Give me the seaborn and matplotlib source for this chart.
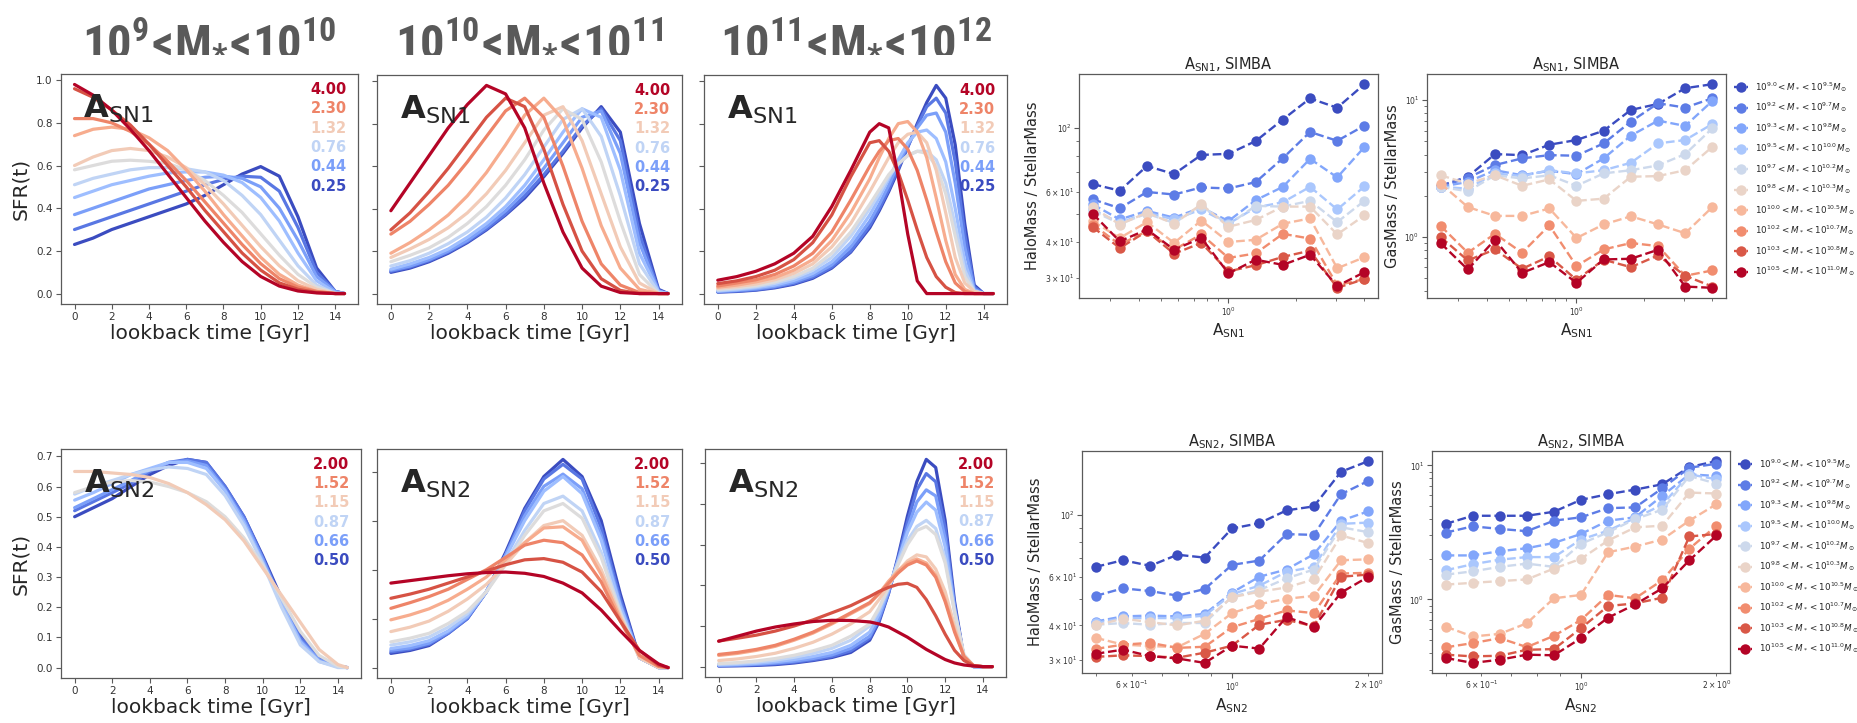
import numpy as np
import pandas as pd
import matplotlib
matplotlib.use("Agg")
import matplotlib.pyplot as plt
import seaborn as sns
from matplotlib import font_manager

# ---------------- model parameters ----------------
A_SN1 = [0.250, 0.330, 0.4353, 0.574, 0.7579, 1.000, 1.3195, 1.741, 2.2974, 3.031, 4.000]
A_SN2 = [0.500, 0.5743, 0.6598, 0.7579, 0.8706, 1.000, 1.1487, 1.3195, 1.5157, 1.7411, 2.000]
LABEL_IDX = [10, 8, 6, 4, 2, 0]

# lookback-time grids [Gyr]
T_BROAD = [0, 1, 2, 3, 4, 5, 6, 7, 8, 9, 10, 11, 12, 13, 14, 14.5]
T_PEAKED = [0, 1, 2, 3, 4, 5, 6, 7, 8, 8.5, 9, 9.5, 10, 10.5, 11, 11.5, 12, 12.5, 13, 13.5, 14, 14.5]

# ---------------- star formation histories, A_SN1 ----------------
SFR_SN1_LOW = [
    [.23, .26, .30, .33, .36, .39, .42, .46, .51, .56, .595, .55, .36, .12, .01, 0],
    [.30, .33, .36, .39, .42, .45, .48, .51, .535, .55, .545, .48, .31, .10, .01, 0],
    [.37, .40, .43, .46, .49, .51, .53, .545, .55, .54, .50, .40, .25, .08, .01, 0],
    [.45, .48, .51, .53, .55, .565, .57, .57, .555, .52, .45, .34, .19, .06, .005, 0],
    [.51, .54, .56, .58, .59, .59, .585, .57, .53, .46, .37, .25, .13, .04, 0, 0],
    [.58, .60, .62, .625, .62, .61, .58, .53, .46, .38, .28, .18, .09, .03, 0, 0],
    [.60, .64, .67, .68, .67, .64, .59, .51, .42, .32, .22, .13, .06, .02, 0, 0],
    [.74, .77, .78, .77, .73, .67, .58, .48, .37, .27, .17, .09, .04, .01, 0, 0],
    [.82, .82, .80, .76, .70, .62, .53, .43, .33, .23, .14, .07, .03, .01, 0, 0],
    [.96, .92, .86, .79, .70, .60, .50, .39, .29, .19, .11, .05, .02, .005, 0, 0],
    [.98, .93, .86, .77, .67, .56, .45, .34, .24, .15, .08, .035, .012, .003, 0, 0],
]
SFR_SN1_MID = [
    [.10, .12, .15, .19, .24, .30, .37, .45, .55, .66, .78, .88, .76, .33, .02, 0],
    [.105, .125, .155, .195, .245, .305, .375, .46, .56, .67, .79, .87, .72, .28, .015, 0],
    [.11, .13, .16, .20, .25, .315, .39, .48, .59, .71, .83, .86, .66, .24, .01, 0],
    [.115, .14, .17, .21, .265, .33, .41, .51, .63, .76, .87, .83, .58, .19, .01, 0],
    [.13, .155, .19, .235, .29, .36, .45, .56, .69, .82, .87, .74, .46, .14, .005, 0],
    [.15, .18, .215, .265, .33, .41, .51, .63, .77, .87, .82, .62, .34, .09, 0, 0],
    [.17, .21, .255, .31, .38, .47, .58, .71, .84, .88, .72, .47, .22, .05, 0, 0],
    [.19, .24, .30, .37, .46, .57, .70, .84, .92, .82, .59, .32, .12, .02, 0, 0],
    [.28, .34, .42, .51, .62, .74, .86, .92, .83, .60, .34, .14, .04, .005, 0, 0],
    [.30, .38, .48, .59, .71, .83, .92, .88, .68, .42, .20, .07, .015, 0, 0, 0],
    [.39, .52, .65, .78, .89, .98, .94, .78, .52, .29, .12, .035, .005, 0, 0, 0],
]
SFR_SN1_HIGH = [
    [.007, .01, .016, .027, .044, .072, .12, .195, .31, .39, .48, .58, .69, .80, .90, .98, .92, .70, .33, .04, 0, 0],
    [.008, .012, .018, .03, .048, .077, .125, .20, .32, .40, .49, .59, .69, .79, .88, .92, .85, .62, .28, .03, 0, 0],
    [.01, .015, .022, .034, .054, .085, .135, .22, .34, .42, .51, .61, .70, .78, .84, .85, .76, .52, .22, .02, 0, 0],
    [.012, .018, .027, .04, .062, .095, .15, .24, .37, .45, .54, .63, .71, .76, .77, .73, .62, .40, .15, .015, 0, 0],
    [.015, .022, .032, .048, .072, .11, .17, .27, .40, .47, .55, .61, .65, .67, .67, .63, .52, .32, .11, .01, 0, 0],
    [.02, .027, .037, .055, .08, .12, .19, .29, .42, .49, .56, .61, .65, .67, .66, .60, .47, .27, .08, .01, 0, 0],
    [.025, .033, .045, .065, .095, .14, .22, .33, .48, .56, .64, .71, .75, .76, .71, .58, .38, .17, .05, .01, 0, 0],
    [.03, .04, .055, .075, .11, .16, .25, .38, .54, .64, .73, .80, .81, .76, .64, .45, .25, .09, .02, 0, 0, 0],
    [.036, .05, .065, .09, .13, .19, .29, .44, .60, .67, .72, .73, .68, .58, .44, .29, .15, .05, .01, 0, 0, 0],
    [.047, .06, .08, .11, .16, .24, .37, .55, .71, .72, .67, .57, .44, .30, .17, .08, .03, .005, 0, 0, 0, 0],
    [.063, .08, .105, .14, .19, .27, .41, .58, .76, .80, .78, .55, .28, .06, 0, 0, 0, 0, 0, 0, 0, 0],
]

# ---------------- star formation histories, A_SN2 ----------------
SFR_SN2_LOW = [
    [.50, .53, .56, .60, .64, .67, .69, .68, .60, .50, .37, .23, .11, .035, .005, 0],
    [.52, .55, .58, .61, .65, .68, .69, .68, .60, .50, .365, .22, .10, .03, .005, 0],
    [.53, .56, .59, .62, .655, .68, .685, .67, .59, .49, .36, .215, .09, .025, .003, 0],
    [.555, .58, .61, .64, .66, .68, .68, .66, .585, .48, .35, .21, .085, .02, .003, 0],
    [.575, .60, .62, .64, .655, .665, .66, .64, .57, .47, .345, .20, .075, .02, 0, 0],
    [.58, .60, .615, .62, .615, .60, .58, .55, .50, .43, .34, .23, .12, .04, .005, 0],
    [.65, .65, .645, .64, .63, .61, .58, .54, .49, .42, .33, .24, .15, .06, .01, 0],
]
SFR_SN2_MID = [
    [.058, .07, .09, .14, .20, .31, .47, .65, .78, .85, .78, .60, .30, .04, 0, 0],
    [.064, .075, .095, .14, .20, .31, .46, .64, .77, .83, .77, .57, .28, .04, 0, 0],
    [.071, .08, .10, .145, .205, .31, .46, .62, .74, .79, .73, .54, .26, .04, 0, 0],
    [.078, .09, .11, .15, .21, .31, .45, .60, .72, .78, .71, .52, .25, .04, 0, 0],
    [.092, .105, .125, .165, .22, .31, .43, .56, .67, .70, .64, .47, .23, .04, 0, 0],
    [.105, .12, .14, .18, .23, .31, .42, .54, .64, .67, .61, .45, .22, .04, 0, 0],
    [.147, .165, .19, .23, .28, .34, .42, .51, .58, .60, .54, .40, .21, .04, 0, 0],
    [.195, .215, .24, .275, .32, .37, .44, .51, .57, .575, .52, .38, .20, .05, .005, 0],
    [.242, .265, .29, .32, .36, .40, .45, .50, .52, .51, .46, .35, .19, .05, .005, 0],
    [.283, .30, .32, .345, .37, .395, .42, .44, .445, .43, .39, .31, .19, .07, .01, 0],
    [.345, .355, .365, .375, .383, .388, .39, .385, .372, .345, .305, .235, .15, .07, .015, 0],
]
SFR_SN2_HIGH = [
    [.003, .004, .006, .01, .018, .03, .045, .07, .13, .22, .36, .54, .74, .91, 1.02, .98, .72, .32, .04, 0, 0, 0],
    [.004, .006, .009, .014, .022, .034, .05, .078, .14, .23, .36, .53, .71, .87, .95, .91, .68, .30, .04, 0, 0, 0],
    [.006, .008, .012, .018, .027, .04, .058, .09, .15, .24, .37, .52, .68, .81, .87, .84, .63, .29, .04, 0, 0, 0],
    [.008, .011, .016, .024, .035, .05, .07, .105, .17, .26, .38, .52, .66, .76, .81, .77, .59, .28, .04, .003, 0, 0],
    [.012, .016, .022, .032, .046, .065, .09, .13, .20, .28, .39, .51, .62, .69, .72, .68, .53, .27, .05, .005, 0, 0],
    [.015, .02, .028, .04, .056, .078, .105, .15, .21, .29, .39, .50, .60, .67, .69, .65, .51, .27, .06, .005, 0, 0],
    [.03, .038, .05, .066, .09, .12, .16, .21, .27, .33, .40, .47, .52, .55, .54, .48, .37, .20, .05, .005, 0, 0],
    [.055, .065, .08, .10, .13, .165, .21, .26, .31, .36, .42, .47, .51, .53, .51, .45, .33, .18, .05, .005, 0, 0],
    [.06, .07, .085, .105, .135, .17, .215, .265, .315, .36, .41, .46, .50, .52, .50, .44, .32, .17, .05, .005, 0, 0],
    [.126, .14, .155, .175, .20, .23, .265, .30, .345, .37, .39, .405, .41, .39, .33, .25, .16, .08, .03, .005, 0, 0],
    [.125, .15, .175, .195, .21, .222, .228, .227, .22, .21, .195, .17, .145, .115, .085, .06, .035, .018, .008, .003, 0, 0],
]

# ---------------- stellar-mass bins ----------------
MASS_LO = ["9.0", "9.2", "9.3", "9.5", "9.7", "9.8", "10.0", "10.2", "10.3", "10.5"]
MASS_HI = ["9.5", "9.7", "9.8", "10.0", "10.2", "10.3", "10.5", "10.7", "10.8", "11.0"]

HALO_SN1 = [
    [63.7, 60.4, 73.6, 69.0, 80.4, 81.1, 89.8, 106.7, 126.3, 117.2, 141.5],
    [56.4, 52.5, 59.8, 58.6, 62.0, 61.5, 64.7, 78.3, 96.6, 90.0, 101.6],
    [54.2, 48.0, 51.4, 48.7, 52.8, 47.4, 56.0, 62.3, 77.9, 67.2, 85.6],
    [52.0, 46.7, 50.7, 48.0, 52.0, 46.4, 52.8, 55.1, 62.3, 52.0, 62.5],
    [51.4, 46.4, 50.3, 46.7, 53.5, 46.1, 53.5, 53.2, 55.7, 47.0, 55.7],
    [53.0, 46.1, 50.7, 46.4, 54.2, 45.3, 47.8, 53.2, 53.2, 42.6, 49.6],
    [47.4, 41.4, 47.0, 39.8, 47.6, 40.1, 40.8, 46.4, 48.4, 32.5, 35.5],
    [46.1, 39.3, 43.7, 37.7, 42.6, 35.3, 36.6, 42.8, 41.2, 28.4, 29.8],
    [45.2, 38.2, 43.7, 36.5, 39.8, 31.7, 33.3, 35.6, 37.4, 27.8, 29.8],
    [50.3, 40.3, 44.3, 37.7, 41.4, 31.2, 34.8, 33.4, 36.2, 28.2, 31.5],
]
GAS_SN1 = [
    [2.36, 2.75, 4.03, 3.96, 4.72, 5.11, 5.98, 8.49, 9.40, 12.25, 13.11],
    [2.32, 2.70, 3.35, 3.75, 3.96, 3.92, 4.83, 6.97, 9.50, 8.83, 10.34],
    [2.32, 2.52, 3.07, 2.82, 3.04, 2.87, 3.75, 5.50, 7.09, 6.48, 9.89],
    [2.32, 2.25, 2.91, 2.78, 3.07, 2.91, 3.07, 3.48, 4.83, 5.11, 6.70],
    [2.32, 2.15, 2.82, 2.67, 2.82, 2.36, 2.91, 3.07, 3.33, 4.03, 6.23],
    [2.82, 2.45, 2.82, 2.36, 2.63, 1.83, 1.90, 2.75, 2.78, 3.07, 4.56],
    [2.45, 1.65, 1.42, 1.42, 1.61, 0.978, 1.23, 1.41, 1.23, 1.06, 1.65],
    [1.20, 0.763, 1.05, 0.763, 1.21, 0.609, 0.807, 0.898, 0.854, 0.517, 0.566],
    [0.994, 0.670, 0.807, 0.582, 0.717, 0.483, 0.678, 0.598, 0.729, 0.517, 0.431],
    [0.898, 0.575, 0.950, 0.543, 0.651, 0.459, 0.681, 0.689, 0.802, 0.431, 0.422],
]
HALO_SN2 = [
    [65.0, 68.7, 65.6, 71.9, 70.2, 89.4, 93.4, 103.9, 107.4, 143.2, 156.4],
    [51.1, 54.4, 53.2, 51.2, 54.1, 66.1, 68.5, 85.3, 84.8, 118.9, 132.7],
    [41.3, 43.1, 43.4, 43.1, 44.0, 52.5, 59.9, 63.6, 72.2, 95.4, 103.1],
    [40.8, 42.5, 42.5, 42.5, 43.4, 51.9, 55.6, 62.4, 65.0, 92.9, 93.9],
    [40.2, 40.8, 40.2, 40.8, 40.8, 50.8, 53.6, 59.1, 63.6, 90.3, 86.7],
    [40.0, 42.3, 41.1, 40.0, 41.6, 50.5, 52.9, 54.8, 58.6, 84.4, 79.2],
    [36.1, 34.1, 33.7, 33.4, 37.3, 44.3, 47.7, 49.9, 51.1, 68.7, 69.2],
    [32.9, 34.1, 34.6, 33.2, 33.5, 39.4, 42.2, 45.3, 44.3, 61.5, 61.9],
    [30.8, 31.2, 31.0, 30.6, 31.9, 33.8, 40.2, 41.9, 39.7, 59.9, 61.0],
    [31.6, 32.7, 31.0, 30.4, 29.3, 33.8, 33.0, 42.9, 39.5, 52.5, 59.9],
]
GAS_SN2 = [
    [3.66, 4.21, 4.21, 4.21, 4.51, 5.54, 6.10, 6.60, 7.23, 9.72, 10.77],
    [3.15, 3.51, 3.36, 3.23, 3.87, 4.10, 4.80, 4.86, 6.75, 9.61, 10.29],
    [2.13, 2.13, 2.29, 2.41, 2.64, 3.08, 3.87, 4.10, 5.93, 8.58, 8.34],
    [1.65, 1.83, 1.98, 2.07, 2.07, 2.80, 3.26, 4.05, 5.09, 8.58, 7.88],
    [1.53, 1.62, 1.75, 1.85, 1.75, 2.60, 3.17, 3.98, 4.67, 8.34, 7.31],
    [1.29, 1.33, 1.37, 1.41, 1.70, 2.01, 2.75, 3.45, 3.55, 6.27, 6.17],
    [0.627, 0.529, 0.553, 0.664, 1.02, 1.08, 2.25, 2.48, 2.80, 3.87, 5.14],
    [0.439, 0.472, 0.514, 0.441, 0.535, 0.703, 1.08, 1.02, 1.39, 2.39, 3.55],
    [0.387, 0.376, 0.380, 0.421, 0.426, 0.610, 0.893, 0.934, 1.03, 2.95, 3.08],
    [0.366, 0.336, 0.355, 0.387, 0.383, 0.514, 0.731, 0.918, 1.21, 1.96, 3.00],
]

COLUMN_TITLES = [
    ("9", "10"),
    ("10", "11"),
    ("11", "12"),
]

# ---------------- style ----------------
sns.set_style("ticks")
plt.rcParams.update({
    "font.family": ["DejaVu Sans"],
    "axes.edgecolor": "#5a5a5a",
    "axes.linewidth": 0.9,
    "xtick.color": "#5a5a5a",
    "ytick.color": "#5a5a5a",
    "xtick.labelcolor": "#333333",
    "ytick.labelcolor": "#333333",
    "xtick.major.size": 3.5,
    "ytick.major.size": 3.5,
    "xtick.minor.size": 2.0,
    "ytick.minor.size": 2.0,
    "xtick.major.width": 0.8,
    "ytick.major.width": 0.8,
    "xtick.minor.width": 0.6,
    "ytick.minor.width": 0.6,
})

# condensed bold face for the column headers, if one is available
installed = {f.name for f in font_manager.fontManager.ttflist}
head_family, head_size = "Liberation Sans", 30
for fam, size in [("Liberation Sans Narrow", 36), ("Roboto Condensed", 35),
                  ("Open Sans Condensed", 34), ("DejaVu Sans Condensed", 30)]:
    if fam in installed:
        head_family, head_size = fam, size
        break
for key in ("mathtext.rm", "mathtext.it", "mathtext.bf", "mathtext.sf"):
    plt.rcParams[key] = f"{head_family}:bold"

W, H = 1858, 723
fig = plt.figure(figsize=(W / 100, H / 100), dpi=100)
fig.patch.set_facecolor("white")


def box(l, t, r, b):
    return [l / W, 1 - b / H, (r - l) / W, (b - t) / H]


cmap = sns.color_palette("coolwarm", as_cmap=True)
curve_cols = [cmap(v) for v in np.linspace(0, 1, 11)]
bin_cols = [cmap(v) for v in np.linspace(0, 1, 10)]


def sfr_panel(rect, times, curves, avals, tag, left_col):
    ax = fig.add_axes(rect)
    rows = [(t, y, f"c{k}") for k, ys in enumerate(curves) for t, y in zip(times, ys)]
    df = pd.DataFrame(rows, columns=["t", "sfr", "curve"])
    order = [f"c{k}" for k in range(len(curves))]
    pal = {f"c{k}": curve_cols[k] for k in range(len(curves))}
    sns.lineplot(data=df, x="t", y="sfr", hue="curve", hue_order=order, palette=pal,
                 estimator=None, sort=False, lw=2.3, legend=False, ax=ax)
    for j, idx in enumerate(LABEL_IDX):
        ax.text(0.962, 0.965 - j * 0.084, f"{avals[idx]:.2f}", transform=ax.transAxes,
                ha="right", va="top", fontsize=10.5, fontweight="bold", color=curve_cols[idx])
    ax.text(0.075, 0.81, r"$\mathbf{A}_{\rm " + tag + "}$", transform=ax.transAxes,
            fontsize=23, va="baseline", ha="left", math_fontfamily="dejavusans")
    ax.set_xticks(range(0, 15, 2))
    ax.tick_params(labelsize=7.5, pad=2.5)
    ax.set_xlabel("lookback time [Gyr]", fontsize=14.5, labelpad=1)
    if left_col:
        ax.set_ylabel("SFR(t)", fontsize=14.5, labelpad=4)
    else:
        ax.set_ylabel("")
        ax.tick_params(labelleft=False)
    return ax


def ratio_panel(rect, avals, series, ylabel, tag, with_legend):
    ax = fig.add_axes(rect)
    ax.set_xscale("log")
    ax.set_yscale("log")
    rows = [(a, v, f"b{j}") for j, s in enumerate(series) for a, v in zip(avals, s)]
    df = pd.DataFrame(rows, columns=["A", "ratio", "bin"])
    order = [f"b{j}" for j in range(len(series))]
    pal = {f"b{j}": bin_cols[j] for j in range(len(series))}
    sns.lineplot(data=df, x="A", y="ratio", hue="bin", hue_order=order, palette=pal,
                 estimator=None, sort=False, marker="o", markersize=7.5, markeredgewidth=0,
                 linestyle="--", lw=1.7, legend=False, ax=ax)
    ax.set_title(r"$\mathrm{A}_{\rm " + tag + "}$, SIMBA", fontsize=10.5, pad=3,
                 math_fontfamily="dejavusans")
    ax.set_xlabel(r"$\mathrm{A}_{\rm " + tag + "}$", fontsize=11, labelpad=2,
                  math_fontfamily="dejavusans")
    ax.set_ylabel(ylabel, fontsize=10.5, labelpad=3)
    ax.tick_params(which="both", labelsize=5.5, pad=2)
    if with_legend:
        labels = [r"$10^{" + lo + r"} < M_* < 10^{" + hi + r"} M_\odot$"
                  for lo, hi in zip(MASS_LO, MASS_HI)]
        ax.legend(ax.get_lines()[:len(series)], labels, loc="upper left",
                  bbox_to_anchor=(1.005, 1.0), frameon=False, fontsize=6.3,
                  handlelength=1.7, handletextpad=0.7, labelspacing=0.75,
                  borderaxespad=0.3)
    return ax


# SFR columns
sfr_panel(box(61, 74, 358, 304), T_BROAD, SFR_SN1_LOW, A_SN1, "SN1", True)
sfr_panel(box(377, 75, 682, 304), T_BROAD, SFR_SN1_MID, A_SN1, "SN1", False)
sfr_panel(box(704, 75, 1007, 304), T_PEAKED, SFR_SN1_HIGH, A_SN1, "SN1", False)
sfr_panel(box(61, 449, 361, 678), T_BROAD, SFR_SN2_LOW, A_SN2, "SN2", True)
sfr_panel(box(377, 449, 682, 678), T_BROAD, SFR_SN2_MID, A_SN2, "SN2", False)
sfr_panel(box(705, 449, 1006, 677), T_PEAKED, SFR_SN2_HIGH, A_SN2, "SN2", False)

# column headers: stellar-mass range of each SFR column
for (lo, hi), xc in zip(COLUMN_TITLES, [209.5, 529.5, 855.5]):
    head = r"$10^{" + lo + r"}\!<\!M_{*}\!<\!10^{" + hi + r"}$"
    fig.text(xc / W, 1 - 52 / H, head, ha="center", va="baseline",
             fontsize=head_size, color="#595959", math_fontfamily="custom")

# mass-ratio panels
ratio_panel(box(1079, 74, 1378, 298), A_SN1, HALO_SN1, "HaloMass / StellarMass", "SN1", False)
ratio_panel(box(1427, 74, 1726, 298), A_SN1, GAS_SN1, "GasMass / StellarMass", "SN1", True)
ratio_panel(box(1082, 451, 1382, 673), A_SN2, HALO_SN2, "HaloMass / StellarMass", "SN2", False)
ratio_panel(box(1432, 451, 1730, 673), A_SN2, GAS_SN2, "GasMass / StellarMass", "SN2", True)

fig.savefig("out.png", dpi=100, facecolor="white")
